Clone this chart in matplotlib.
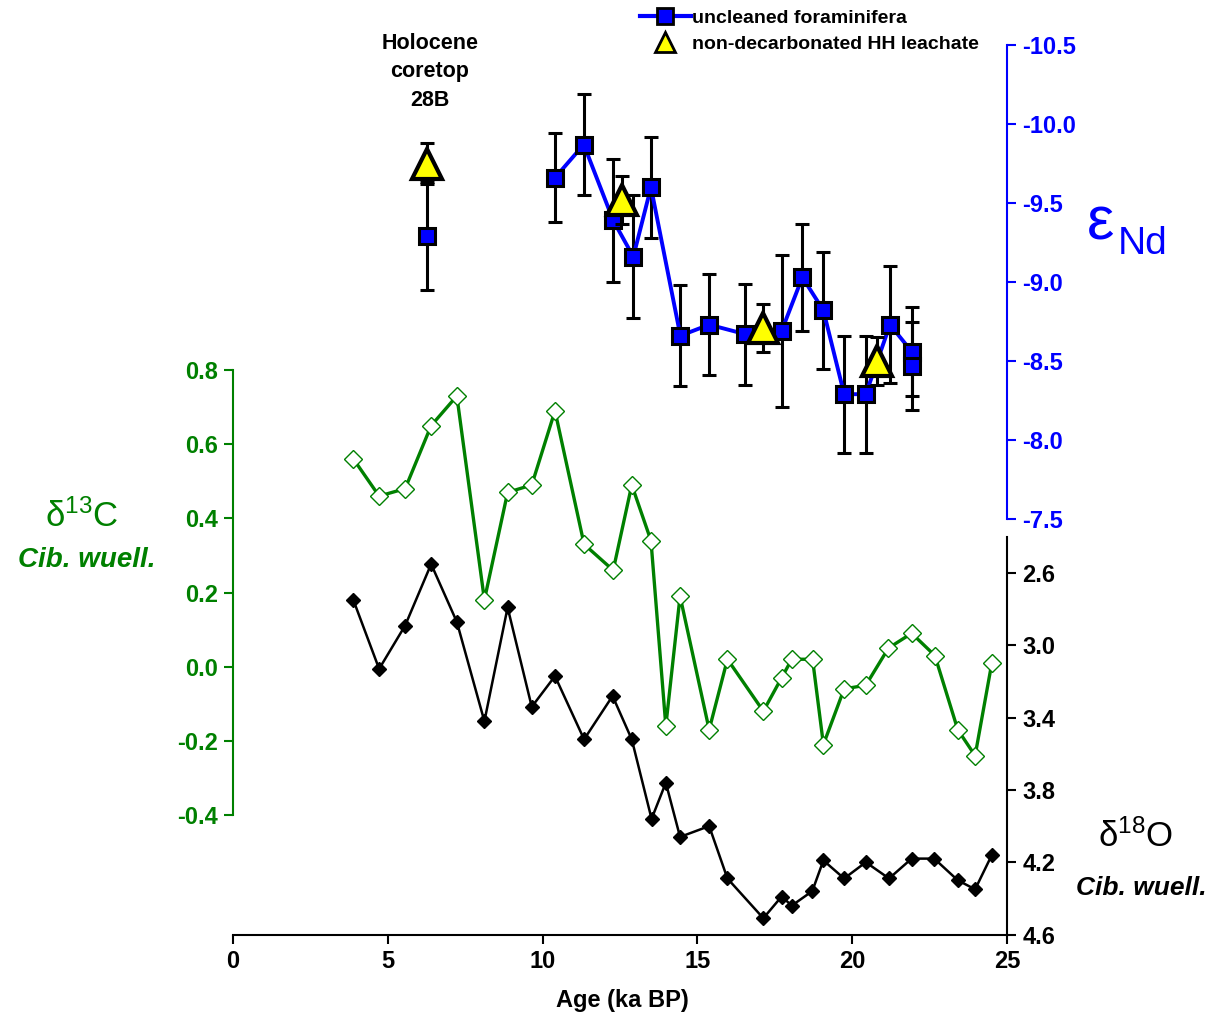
#!/usr/bin/env python3
# -*- coding: utf-8 -*-

"""
plot.py
eNd / d13C / d18O versus age, three stacked y-axes sharing the age axis.
Output: out.png
"""

import matplotlib
matplotlib.use("Agg")
import matplotlib.pyplot as plt
from matplotlib.lines import Line2D

plt.rcParams["font.family"] = ["Liberation Sans", "DejaVu Sans"]
plt.rcParams["font.weight"] = "bold"
plt.rcParams["axes.unicode_minus"] = False
plt.rcParams["mathtext.fontset"] = "custom"
plt.rcParams["mathtext.rm"] = "Liberation Sans"
plt.rcParams["mathtext.it"] = "Liberation Sans:italic"

# ---- eNd, uncleaned foraminifera (connected) ----
nd_age = [10.40, 11.33, 12.28, 12.93, 13.50, 14.45, 15.38, 16.54, 17.72,
          18.39, 19.07, 19.74, 20.44, 21.22, 21.92, 21.92]
nd_val = [-9.66, -9.87, -9.39, -9.16, -9.60, -8.66, -8.73, -8.67, -8.69,
          -9.03, -8.82, -8.29, -8.29, -8.73, -8.56, -8.47]
nd_err = [0.28, 0.32, 0.39, 0.39, 0.32, 0.32, 0.32, 0.32, 0.48,
          0.34, 0.37, 0.37, 0.37, 0.37, 0.28, 0.28]

# Holocene coretop 28B, uncleaned foraminifera
core_age = [6.27]
core_val = [-9.29]
core_err = [0.34]

# ---- eNd, non-decarbonated HH leachate ----
leach_age = [6.27, 12.57, 17.13, 20.79]
leach_val = [-9.75, -9.52, -8.71, -8.50]
leach_err = [0.13, 0.15, 0.15, 0.15]

# ---- d13C Cib. wuell. ----
c13_age = [3.89, 4.72, 5.56, 6.40, 7.23, 8.12, 8.87, 9.65, 10.40, 11.34,
           12.28, 12.88, 13.50, 13.98, 14.44, 15.38, 15.97, 17.13, 17.72, 18.05,
           18.72, 19.07, 19.74, 20.44, 21.17, 21.92, 22.67, 23.41, 23.97, 24.51]
c13_val = [0.56, 0.46, 0.48, 0.65, 0.73, 0.18, 0.47, 0.49, 0.69, 0.33,
           0.26, 0.49, 0.34, -0.16, 0.19, -0.17, 0.02, -0.12, -0.03, 0.02,
           0.02, -0.21, -0.06, -0.05, 0.05, 0.09, 0.03, -0.17, -0.24, 0.01]

# ---- d18O Cib. wuell. ----
o18_age = [3.89, 4.72, 5.56, 6.40, 7.23, 8.12, 8.87, 9.65, 10.40, 11.34,
           12.26, 12.88, 13.52, 13.98, 14.44, 15.38, 15.97, 17.13, 17.72, 18.05,
           18.71, 19.07, 19.74, 20.44, 21.19, 21.92, 22.65, 23.41, 23.97, 24.51]
o18_val = [2.75, 3.13, 2.89, 2.55, 2.87, 3.42, 2.79, 3.34, 3.17, 3.52,
           3.28, 3.52, 3.96, 3.76, 4.06, 4.00, 4.29, 4.51, 4.39, 4.44,
           4.36, 4.19, 4.29, 4.20, 4.29, 4.18, 4.18, 4.30, 4.35, 4.16]

AGE_TICKS = [0, 5, 10, 15, 20, 25]
C13_TICKS = [-0.4, -0.2, 0.0, 0.2, 0.4, 0.6, 0.8]
O18_TICKS = [2.6, 3.0, 3.4, 3.8, 4.2, 4.6]
ND_TICKS = [-10.5, -10.0, -9.5, -9.0, -8.5, -8.0, -7.5]

GREEN = "#008000"
BLUE = "#0000ff"

W, H = 1219, 1017
fig = plt.figure(figsize=(W / 100, H / 100), dpi=100)


def fig_box(x0, y_top, x1, y_bot):
    """pixel box -> figure fraction [l, b, w, h]"""
    return [x0 / W, 1 - y_bot / H, (x1 - x0) / W, (y_bot - y_top) / H]


tick_kw = dict(direction="out", length=6.5, width=1.5, labelsize=17, pad=4.5)

# d18O axis (bottom, carries the age axis)
ax_o = fig.add_axes(fig_box(233, 537, 1007, 934.5))
ax_o.patch.set_visible(False)
ax_o.plot(o18_age, o18_val, color="k", lw=1.8, marker="D", ms=7,
          mfc="k", mec="k")
ax_o.set_xlim(0, 25)
ax_o.set_ylim(4.6, 2.4)
ax_o.set_xticks(AGE_TICKS)
ax_o.set_yticks(O18_TICKS)
ax_o.yaxis.set_major_formatter(matplotlib.ticker.FormatStrFormatter("%.1f"))
ax_o.yaxis.tick_right()
for s in ["left", "top"]:
    ax_o.spines[s].set_visible(False)
for s in ["right", "bottom"]:
    ax_o.spines[s].set_linewidth(1.5)
ax_o.tick_params(axis="both", **tick_kw)

# d13C axis (left, green)
ax_c = fig.add_axes(fig_box(233, 370, 1007, 815))
ax_c.patch.set_visible(False)
ax_c.plot(c13_age, c13_val, color=GREEN, lw=2.4, marker="D", ms=9.2,
          mfc="white", mec=GREEN, mew=1)
ax_c.set_xlim(0, 25)
ax_c.set_ylim(-0.4, 0.8)
ax_c.set_yticks(C13_TICKS)
ax_c.yaxis.set_major_formatter(matplotlib.ticker.FormatStrFormatter("%.1f"))
ax_c.set_xticks([])
for s in ["right", "top", "bottom"]:
    ax_c.spines[s].set_visible(False)
ax_c.spines["left"].set_color(GREEN)
ax_c.spines["left"].set_linewidth(1.5)
ax_c.tick_params(axis="y", colors=GREEN, **tick_kw)

# eNd axis (top right, blue)
ax_n = fig.add_axes(fig_box(233, 45, 1007, 519))
ax_n.patch.set_visible(False)
ax_n.set_xlim(0, 25)
ax_n.set_ylim(-7.5, -10.5)
ax_n.set_yticks(ND_TICKS)
ax_n.yaxis.set_major_formatter(matplotlib.ticker.FormatStrFormatter("%.1f"))
ax_n.set_xticks([])
ax_n.yaxis.tick_right()
for s in ["left", "top", "bottom"]:
    ax_n.spines[s].set_visible(False)
ax_n.spines["right"].set_color(BLUE)
ax_n.spines["right"].set_linewidth(1.5)
ax_n.tick_params(axis="y", colors=BLUE, **tick_kw)

err_kw = dict(fmt="none", ecolor="k", elinewidth=2.2, capsize=5, capthick=2.2)
ax_n.errorbar(nd_age, nd_val, yerr=nd_err, zorder=2, **err_kw)
ax_n.errorbar(core_age, core_val, yerr=core_err, zorder=2, **err_kw)
ax_n.plot(nd_age, nd_val, color=BLUE, lw=2.8, marker="s", ms=11.5,
          mfc=BLUE, mec="k", mew=2.2, zorder=3)
ax_n.plot(core_age, core_val, ls="none", marker="s", ms=11.5,
          mfc=BLUE, mec="k", mew=2.2, zorder=3)
ax_n.errorbar(leach_age, leach_val, yerr=leach_err, zorder=4, **err_kw)
ax_n.plot(leach_age, leach_val, ls="none", marker="^", ms=22,
          mfc="yellow", mec="k", mew=3, zorder=5)

# axis titles and annotations
fig.text(622 / W, 1 - 1001 / H, "Age (ka BP)", ha="center", va="center",
         fontsize=17)
fig.text(82 / W, 1 - 517 / H, r"$\mathregular{\delta^{13}C}$", ha="center",
         va="center", fontsize=25, color=GREEN, fontweight="normal")
fig.text(87 / W, 1 - 560 / H, "Cib. wuell.", ha="center", va="center",
         fontsize=20, color=GREEN, style="italic")
fig.text(1136 / W, 1 - 837 / H, r"$\mathregular{\delta^{18}O}$", ha="center",
         va="center", fontsize=25, color="k", fontweight="normal")
fig.text(1141 / W, 1 - 888 / H, "Cib. wuell.", ha="center", va="center",
         fontsize=19, color="k", style="italic")
fig.text(1087 / W, 1 - 240 / H, "\u03b5", ha="left", va="baseline",
         fontsize=44, color=BLUE, fontweight="normal")
fig.text(1118 / W, 1 - 254 / H, "Nd", ha="left", va="baseline",
         fontsize=28, color=BLUE, fontweight="normal")
fig.text(430 / W, 1 - 72 / H, "Holocene\ncoretop\n28B", ha="center",
         va="center", fontsize=15.5, linespacing=1.45)

# legend
h1 = Line2D([], [], color=BLUE, lw=3, marker="s", ms=11, mfc=BLUE,
            mec="k", mew=2)
h2 = Line2D([], [], ls="none", marker="^", ms=14, mfc="yellow", mec="k", mew=2)
fig.legend([h1, h2], ["uncleaned foraminifera", "non-decarbonated HH leachate"],
           loc="upper left", bbox_to_anchor=(640 / W, 1 - 9 / H),
           frameon=False, fontsize=14, handlelength=2.6, handletextpad=0.1,
           labelspacing=0.45, borderaxespad=0, borderpad=0)

fig.savefig("out.png", dpi=100)
